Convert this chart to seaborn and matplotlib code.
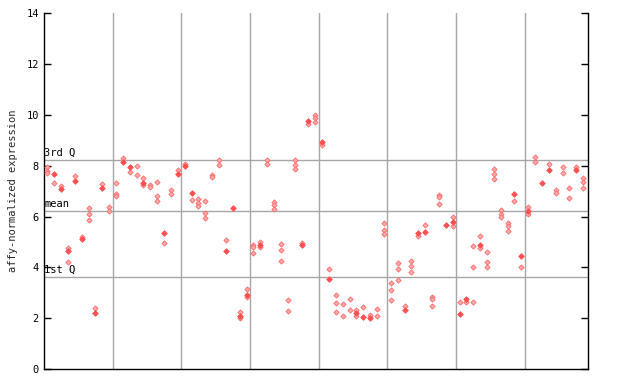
import matplotlib
matplotlib.use("Agg")
import matplotlib.pyplot as plt
import seaborn as sns
import pandas as pd

# expression values per sample column (79 columns)
values = [
    [7.95, 7.8, 7.7], [7.66, 7.33], [7.2, 7.08], [4.76, 4.66, 4.22], [7.6, 7.4],
    [5.19, 5.13], [6.34, 6.1, 5.88], [2.39, 2.22], [7.3, 7.11], [6.39, 6.23],
    [7.33, 6.9, 6.8], [8.31, 8.14], [7.94, 7.76], [8.0, 7.64], [7.5, 7.33, 7.24],
    [7.24, 7.16], [7.36, 6.79, 6.61], [5.37, 4.96], [7.06, 6.89], [7.85, 7.66],
    [8.07, 7.98], [6.91, 6.65], [6.69, 6.52, 6.43], [6.61, 6.14, 5.94], [7.63, 7.56],
    [8.22, 8.03], [5.07, 4.66], [6.32], [2.26, 2.09, 2.0], [3.14, 2.93, 2.83],
    [4.88, 4.8, 4.56], [5.0, 4.88, 4.8], [8.23, 8.07], [6.57, 6.44, 6.31], [4.92, 4.68, 4.25],
    [2.71, 2.29], [8.23, 8.03, 7.87], [4.96, 4.88], [9.75, 9.65], [10.0, 9.86, 9.71],
    [8.92, 8.82], [3.93, 3.56], [2.9, 2.59, 2.24], [2.55, 2.08], [2.75, 2.31],
    [2.31, 2.19, 2.08], [2.43, 2.06], [2.11, 2.02], [2.35, 2.08], [5.74, 5.47, 5.31],
    [3.38, 3.1, 2.71], [4.16, 3.93, 3.5], [2.47, 2.34], [4.25, 4.05, 3.81], [5.37, 5.22],
    [5.66, 5.41], [2.83, 2.75, 2.47], [6.85, 6.77, 6.49], [5.65], [5.98, 5.78, 5.63],
    [2.63, 2.18], [2.77, 2.65], [4.84, 4.01, 2.63], [5.24, 4.88, 4.76], [4.6, 4.21, 4.01],
    [7.86, 7.66, 7.48], [6.24, 6.12, 5.98], [5.74, 5.61, 5.45], [6.87, 6.61], [4.46, 4.01],
    [6.37, 6.22, 6.1], [8.34, 8.15], [7.32], [8.07, 7.82], [7.03, 6.93],
    [7.95, 7.72], [7.12, 6.73], [7.95, 7.83], [7.52, 7.36, 7.12],
]
# 1 = solid diamond, 0 = dithered diamond
filled = [
    [0, 0, 0], [1, 0], [0, 1], [0, 1, 0], [0, 1],
    [0, 1], [0, 0, 0], [0, 1], [0, 1], [0, 0],
    [0, 0, 0], [0, 1], [1, 0], [0, 0], [0, 1, 0],
    [0, 0], [0, 0, 0], [1, 0], [0, 0], [0, 1],
    [0, 1], [1, 0], [0, 0, 0], [0, 0, 0], [0, 0],
    [0, 0], [0, 1], [1], [0, 1, 0], [0, 1, 0],
    [0, 0, 0], [0, 1, 0], [0, 0], [0, 0, 0], [0, 0, 0],
    [0, 0], [0, 0, 0], [0, 1], [1, 0], [0, 0, 0],
    [1, 0], [0, 1], [0, 0, 0], [0, 0], [0, 0],
    [0, 1, 0], [0, 1], [0, 1], [0, 0], [0, 0, 0],
    [0, 0, 0], [0, 0, 0], [0, 1], [0, 0, 0], [1, 0],
    [0, 1], [0, 0, 0], [0, 0, 0], [1], [0, 1, 0],
    [0, 1], [1, 0], [0, 0, 0], [0, 1, 0], [0, 0, 0],
    [0, 0, 0], [0, 0, 0], [0, 0, 0], [1, 0], [1, 0],
    [0, 1, 0], [0, 0], [1], [0, 1], [0, 0],
    [0, 0], [0, 0], [0, 1], [0, 0, 0],
]
quartiles = {"3rd Q": 8.23, "mean": 6.23, "1st Q": 3.63}
y_ticks = [0, 2, 4, 6, 8, 10, 12, 14]

rows = []
for i, (vals, fl) in enumerate(zip(values, filled)):
    for v, f in zip(vals, fl):
        rows.append({"sample": i, "value": v, "kind": "solid" if f else "dither"})
df = pd.DataFrame(rows)

sns.set_style("white")
plt.rcParams["font.family"] = ["DejaVu Sans Mono", "DejaVu Sans"]

fig = plt.figure(figsize=(6.4, 3.84), dpi=100)
ax = fig.add_axes([44.3 / 640, 15 / 384, 543.4 / 640, 355.7 / 384])

n = len(values)
for g in range(10, n, 10):
    ax.axvline(g - 0.5, color="#a6a6a6", lw=1, zorder=1)
for label, q in quartiles.items():
    ax.axhline(q, color="#a6a6a6", lw=1, zorder=1)
    ax.text(0.0, q + 0.08, label, fontsize=7.5, color="black",
            transform=ax.get_yaxis_transform(), ha="left", va="bottom", zorder=2)

sns.scatterplot(data=df[df.kind == "dither"], x="sample", y="value", marker="D",
                s=7, color="#ffaaaa", edgecolor="#ff6a6a", linewidth=0.6,
                ax=ax, zorder=3, legend=False)
sns.scatterplot(data=df[df.kind == "solid"], x="sample", y="value", marker="D",
                s=8, color="#ff4f4f", edgecolor="#ff4f4f", linewidth=0.6,
                ax=ax, zorder=4, legend=False)

ax.set_xlim(-0.44, 78.66)
ax.set_ylim(0, 14)
ax.set_yticks(y_ticks)
ax.set_yticklabels([str(t) for t in y_ticks], fontsize=7.5)
ax.set_xticks([])
ax.set_xlabel("")
ax.set_ylabel("affy-normalized expression", fontsize=7.5, labelpad=6)
ax.tick_params(axis="y", direction="in", length=5, width=1, left=True, right=True,
               labelright=False, pad=4, colors="black")
for side in ["left", "bottom", "right"]:
    ax.spines[side].set_color("black")
    ax.spines[side].set_linewidth(1)
ax.spines["top"].set_visible(False)

fig.savefig("out.png", dpi=100)
